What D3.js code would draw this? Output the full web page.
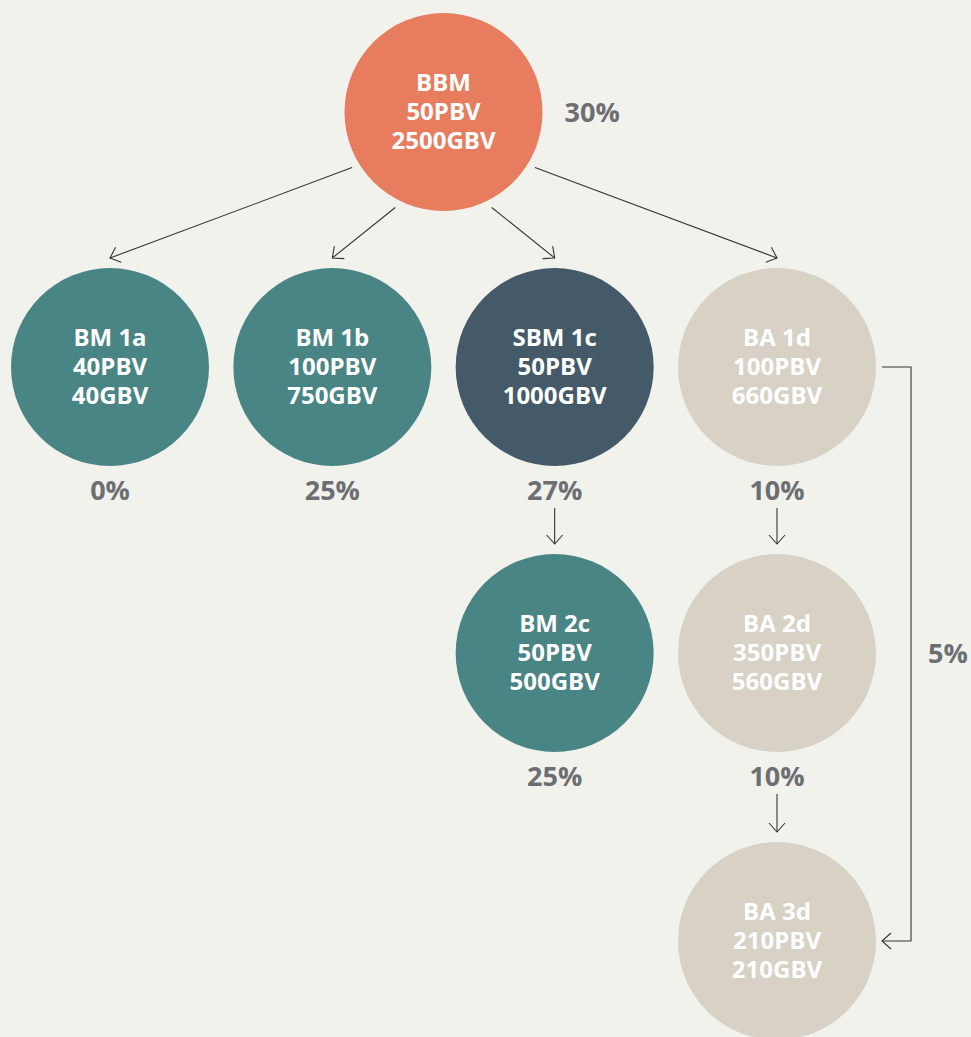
<!DOCTYPE html>
<meta charset="utf-8">
<style>
body { margin: 0; background: #f2f2ec; }
svg { display: block; background: #f2f2ec; }
.node-label { font-family: "Open Sans", sans-serif; font-weight: 700; font-size: 24px; fill: #fff; }
.pct { font-family: "Open Sans", sans-serif; font-weight: 700; font-size: 27px; fill: #6d6e72; }
.link { fill: none; stroke: #333; stroke-width: 1.1px; }
</style>
<svg width="971" height="1037"></svg>
<script src="https://d3js.org/d3.v7.min.js"></script>
<script>

// node data
var names = ["BBM", "BM 1a", "BM 1b", "SBM 1c", "BA 1d", "BM 2c", "BA 2d", "BA 3d"];
var pbv   = [50, 40, 100, 50, 100, 50, 350, 210];
var gbv   = [2500, 40, 750, 1000, 660, 500, 560, 210];
var pct   = [30, 0, 25, 27, 10, 25, 10, null];
var kind  = ["bbm", "bm", "bm", "sbm", "ba", "bm", "ba", "ba"];
var col   = [1.5, 0, 1, 2, 3, 2, 3, 3];
var level = [0, 1, 1, 1, 1, 2, 2, 3];

// links (index of source, index of target)
var linkFrom = [0, 0, 0, 0, 3, 4, 6];
var linkTo   = [1, 2, 3, 4, 5, 6, 7];

// skip-level link
var jumpFrom = 4, jumpTo = 7, jumpPct = 5;

var svg = d3.select("svg"),
    r = 99;

var x = d3.scaleLinear().domain([0, 3]).range([110, 777]);
var y = d3.scaleOrdinal().domain([0, 1, 2, 3]).range([112, 367, 653, 941]);
var color = d3.scaleOrdinal()
    .domain(["bbm", "bm", "sbm", "ba"])
    .range(["#e77c5e", "#498584", "#445a69", "#d7d2c5"]);

var nodes = names.map(function(n, i) {
  return {name: n, pbv: pbv[i], gbv: gbv[i], pct: pct[i], kind: kind[i], x: x(col[i]), y: y(level[i])};
});

svg.append("defs").append("marker")
    .attr("id", "head")
    .attr("viewBox", "-12 -10 14 20")
    .attr("refX", 0).attr("refY", 0)
    .attr("markerWidth", 14).attr("markerHeight", 20)
    .attr("markerUnits", "userSpaceOnUse")
    .attr("orient", "auto")
  .append("path")
    .attr("d", "M-9,-8L0,0L-9,8")
    .attr("fill", "none")
    .attr("stroke", "#333")
    .attr("stroke-width", 1.1);

var links = linkFrom.map(function(s, i) { return {s: nodes[s], t: nodes[linkTo[i]]}; });

svg.selectAll(".link.main")
  .data(links)
  .enter().append("path")
    .attr("class", "link main")
    .attr("marker-end", "url(#head)")
    .attr("d", function(d) {
      var x0, y0, x1 = d.t.x, y1 = d.t.y - r - 10;
      if (d.s.x === d.t.x) {
        // straight down, under the percentage label
        x0 = d.s.x; y0 = d.s.y + r + 42;
      } else {
        var dx = d.t.x - d.s.x,
            a = (Math.abs(dx) > 300 ? 31.3 : 63.2) * Math.PI / 180,
            rr = r + 8;
        x0 = d.s.x + Math.sign(dx) * rr * Math.cos(a);
        y0 = d.s.y + rr * Math.sin(a);
      }
      return "M" + x0 + "," + y0 + "L" + x1 + "," + y1;
    });

// elbow link from BA 1d to BA 3d
var js = nodes[jumpFrom], jt = nodes[jumpTo], elbowX = js.x + r + 35;
svg.append("path")
    .attr("class", "link")
    .attr("marker-end", "url(#head)")
    .attr("d", "M" + (js.x + r + 6) + "," + js.y + "H" + elbowX + "V" + jt.y + "H" + (jt.x + r + 6));

svg.append("text")
    .attr("class", "pct")
    .attr("x", elbowX + 17)
    .attr("y", (js.y + jt.y) / 2)
    .attr("dy", "0.35em")
    .text(jumpPct + "%");

var node = svg.selectAll(".node")
  .data(nodes)
  .enter().append("g")
    .attr("class", "node")
    .attr("transform", function(d) { return "translate(" + d.x + "," + d.y + ")"; });

node.append("circle")
    .attr("r", r)
    .attr("fill", function(d) { return color(d.kind); });

node.append("text")
    .attr("class", "node-label")
    .attr("text-anchor", "middle")
    .selectAll("tspan")
    .data(function(d) { return [d.name, d.pbv + "PBV", d.gbv + "GBV"]; })
    .enter().append("tspan")
      .attr("x", 0)
      .attr("y", function(d, i) { return (i - 1) * 29; })
      .attr("dy", "0.35em")
      .text(function(d) { return d; });

node.filter(function(d) { return d.pct !== null; })
  .append("text")
    .attr("class", "pct")
    .attr("text-anchor", function(d) { return d.kind === "bbm" ? "start" : "middle"; })
    .attr("x", function(d) { return d.kind === "bbm" ? r + 22 : 0; })
    .attr("y", function(d) { return d.kind === "bbm" ? 1 : r + 25; })
    .attr("dy", "0.35em")
    .text(function(d) { return d.pct + "%"; });

</script>
